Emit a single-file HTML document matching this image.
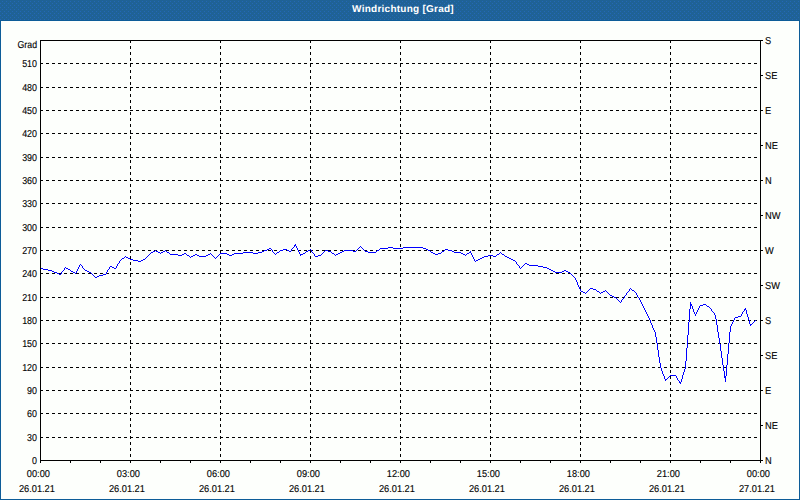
<!DOCTYPE html>
<html><head><meta charset="utf-8"><title>Windrichtung [Grad]</title>
<style>
html,body{margin:0;padding:0;background:#fdfffc;}
body{width:800px;height:500px;overflow:hidden;}
svg{display:block;font-family:"Liberation Sans",sans-serif;font-size:10px;text-rendering:geometricPrecision;}
.t{fill:#000;stroke:#000;stroke-width:0.12px;}
</style></head><body>
<svg width="800" height="500" viewBox="0 0 800 500">
<rect x="0" y="0" width="800" height="500" fill="#0d5c98"/>
<rect x="1" y="21" width="798" height="478" fill="#fdfffc"/>
<defs><pattern id="dz" width="4" height="4" patternUnits="userSpaceOnUse"><rect width="4" height="4" fill="#1f6296"/><rect x="2" y="1" width="1" height="1" fill="#2468b6"/><rect x="0" y="3" width="1" height="1" fill="#2468b6"/></pattern></defs>
<rect x="0" y="0" width="800" height="20" fill="url(#dz)" shape-rendering="crispEdges"/>
<text x="403" y="12" text-anchor="middle" font-weight="bold" fill="#fff" style="font-size:10px;letter-spacing:0.25px">Windrichtung [Grad]</text>
<g shape-rendering="crispEdges" stroke="#000" stroke-width="1" fill="none">
<line x1="40" y1="437.5" x2="760" y2="437.5" stroke-dasharray="3,3"/>
<line x1="40" y1="413.5" x2="760" y2="413.5" stroke-dasharray="3,3"/>
<line x1="40" y1="390.5" x2="760" y2="390.5" stroke-dasharray="3,3"/>
<line x1="40" y1="367.5" x2="760" y2="367.5" stroke-dasharray="3,3"/>
<line x1="40" y1="343.5" x2="760" y2="343.5" stroke-dasharray="3,3"/>
<line x1="40" y1="320.5" x2="760" y2="320.5" stroke-dasharray="3,3"/>
<line x1="40" y1="297.5" x2="760" y2="297.5" stroke-dasharray="3,3"/>
<line x1="40" y1="273.5" x2="760" y2="273.5" stroke-dasharray="3,3"/>
<line x1="40" y1="250.5" x2="760" y2="250.5" stroke-dasharray="3,3"/>
<line x1="40" y1="227.5" x2="760" y2="227.5" stroke-dasharray="3,3"/>
<line x1="40" y1="203.5" x2="760" y2="203.5" stroke-dasharray="3,3"/>
<line x1="40" y1="180.5" x2="760" y2="180.5" stroke-dasharray="3,3"/>
<line x1="40" y1="157.5" x2="760" y2="157.5" stroke-dasharray="3,3"/>
<line x1="40" y1="133.5" x2="760" y2="133.5" stroke-dasharray="3,3"/>
<line x1="40" y1="110.5" x2="760" y2="110.5" stroke-dasharray="3,3"/>
<line x1="40" y1="87.5" x2="760" y2="87.5" stroke-dasharray="3,3"/>
<line x1="40" y1="63.5" x2="760" y2="63.5" stroke-dasharray="3,3"/>
<line x1="130.5" y1="40" x2="130.5" y2="460" stroke-dasharray="3,3"/>
<line x1="220.5" y1="40" x2="220.5" y2="460" stroke-dasharray="3,3"/>
<line x1="310.5" y1="40" x2="310.5" y2="460" stroke-dasharray="3,3"/>
<line x1="400.5" y1="40" x2="400.5" y2="460" stroke-dasharray="3,3"/>
<line x1="490.5" y1="40" x2="490.5" y2="460" stroke-dasharray="3,3"/>
<line x1="580.5" y1="40" x2="580.5" y2="460" stroke-dasharray="3,3"/>
<line x1="670.5" y1="40" x2="670.5" y2="460" stroke-dasharray="3,3"/>
</g>
<g class="t" text-anchor="end">
<text transform="translate(37.00 48.00) scale(0.875 1)">Grad</text>
<text transform="translate(37.00 464.00) scale(0.89 1)">0</text>
<text transform="translate(37.00 441.00) scale(0.89 1)">30</text>
<text transform="translate(37.00 417.00) scale(0.89 1)">60</text>
<text transform="translate(37.00 394.00) scale(0.89 1)">90</text>
<text transform="translate(37.00 371.00) scale(0.89 1)">120</text>
<text transform="translate(37.00 347.00) scale(0.89 1)">150</text>
<text transform="translate(37.00 324.00) scale(0.89 1)">180</text>
<text transform="translate(37.00 301.00) scale(0.89 1)">210</text>
<text transform="translate(37.00 277.00) scale(0.89 1)">240</text>
<text transform="translate(37.00 254.00) scale(0.89 1)">270</text>
<text transform="translate(37.00 231.00) scale(0.89 1)">300</text>
<text transform="translate(37.00 207.00) scale(0.89 1)">330</text>
<text transform="translate(37.00 184.00) scale(0.89 1)">360</text>
<text transform="translate(37.00 161.00) scale(0.89 1)">390</text>
<text transform="translate(37.00 137.00) scale(0.89 1)">420</text>
<text transform="translate(37.00 114.00) scale(0.89 1)">450</text>
<text transform="translate(37.00 91.00) scale(0.89 1)">480</text>
<text transform="translate(37.00 67.00) scale(0.89 1)">510</text>
</g>
<g class="t">
<text transform="translate(765.00 44.00) scale(0.925 1)">S</text>
<text transform="translate(765.00 79.00) scale(0.925 1)">SE</text>
<text transform="translate(765.00 114.00) scale(0.925 1)">E</text>
<text transform="translate(765.00 149.00) scale(0.925 1)">NE</text>
<text transform="translate(765.00 184.00) scale(0.925 1)">N</text>
<text transform="translate(765.00 219.00) scale(0.925 1)">NW</text>
<text transform="translate(765.00 254.00) scale(0.925 1)">W</text>
<text transform="translate(765.00 289.00) scale(0.925 1)">SW</text>
<text transform="translate(765.00 324.00) scale(0.925 1)">S</text>
<text transform="translate(765.00 359.00) scale(0.925 1)">SE</text>
<text transform="translate(765.00 394.00) scale(0.925 1)">E</text>
<text transform="translate(765.00 429.00) scale(0.925 1)">NE</text>
<text transform="translate(765.00 464.00) scale(0.925 1)">N</text>
</g>
<g class="t" text-anchor="middle">
<text transform="translate(38.40 477.00) scale(0.925 1)">00:00</text>
<text transform="translate(36.90 492.00) scale(0.925 1)">26.01.21</text>
<text transform="translate(128.40 477.00) scale(0.925 1)">03:00</text>
<text transform="translate(126.90 492.00) scale(0.925 1)">26.01.21</text>
<text transform="translate(218.40 477.00) scale(0.925 1)">06:00</text>
<text transform="translate(216.90 492.00) scale(0.925 1)">26.01.21</text>
<text transform="translate(308.40 477.00) scale(0.925 1)">09:00</text>
<text transform="translate(306.90 492.00) scale(0.925 1)">26.01.21</text>
<text transform="translate(398.40 477.00) scale(0.925 1)">12:00</text>
<text transform="translate(396.90 492.00) scale(0.925 1)">26.01.21</text>
<text transform="translate(488.40 477.00) scale(0.925 1)">15:00</text>
<text transform="translate(486.90 492.00) scale(0.925 1)">26.01.21</text>
<text transform="translate(578.40 477.00) scale(0.925 1)">18:00</text>
<text transform="translate(576.90 492.00) scale(0.925 1)">26.01.21</text>
<text transform="translate(668.40 477.00) scale(0.925 1)">21:00</text>
<text transform="translate(666.90 492.00) scale(0.925 1)">26.01.21</text>
<text transform="translate(758.40 477.00) scale(0.925 1)">00:00</text>
<text transform="translate(756.90 492.00) scale(0.925 1)">27.01.21</text>
</g>
<path shape-rendering="crispEdges" fill="#0000ff" stroke="none" d="M40 268h1v1h-1zM41 268h1v1h-1zM42 268h1v1h-1zM43 269h1v1h-1zM44 269h1v1h-1zM45 269h1v1h-1zM46 269h1v1h-1zM47 269h1v1h-1zM48 270h1v1h-1zM49 270h1v1h-1zM50 270h1v1h-1zM51 270h1v1h-1zM52 271h1v1h-1zM53 271h1v1h-1zM54 272h1v1h-1zM55 272h1v1h-1zM56 272h1v1h-1zM57 273h1v1h-1zM58 273h1v1h-1zM59 274h1v1h-1zM60 274h1v1h-1zM61 272h1v2h-1zM62 271h1v1h-1zM63 270h1v1h-1zM64 268h1v2h-1zM65 267h1v1h-1zM66 268h1v1h-1zM67 268h1v1h-1zM68 269h1v1h-1zM69 269h1v1h-1zM70 270h1v1h-1zM71 271h1v1h-1zM72 271h1v1h-1zM73 272h1v1h-1zM74 272h1v1h-1zM75 273h1v1h-1zM76 271h1v2h-1zM77 269h1v2h-1zM78 267h1v2h-1zM79 265h1v2h-1zM80 264h1v1h-1zM81 265h1v1h-1zM82 266h1v2h-1zM83 268h1v1h-1zM84 269h1v1h-1zM85 270h1v1h-1zM86 270h1v1h-1zM87 271h1v1h-1zM88 271h1v1h-1zM89 272h1v1h-1zM90 272h1v1h-1zM91 273h1v1h-1zM92 274h1v1h-1zM93 275h1v1h-1zM94 276h1v1h-1zM95 277h1v1h-1zM96 277h1v1h-1zM97 276h1v1h-1zM98 276h1v1h-1zM99 275h1v1h-1zM100 275h1v1h-1zM101 275h1v1h-1zM102 275h1v1h-1zM103 274h1v1h-1zM104 274h1v1h-1zM105 274h1v1h-1zM106 272h1v2h-1zM107 270h1v2h-1zM108 269h1v1h-1zM109 267h1v2h-1zM110 266h1v1h-1zM111 266h1v1h-1zM112 267h1v1h-1zM113 267h1v1h-1zM114 268h1v1h-1zM115 268h1v1h-1zM116 266h1v2h-1zM117 264h1v2h-1zM118 263h1v1h-1zM119 261h1v2h-1zM120 260h1v1h-1zM121 259h1v1h-1zM122 258h1v1h-1zM123 258h1v1h-1zM124 257h1v1h-1zM125 256h1v1h-1zM126 257h1v1h-1zM127 257h1v1h-1zM128 258h1v1h-1zM129 258h1v1h-1zM130 259h1v1h-1zM131 259h1v1h-1zM132 259h1v1h-1zM133 260h1v1h-1zM134 260h1v1h-1zM135 260h1v1h-1zM136 260h1v1h-1zM137 260h1v1h-1zM138 261h1v1h-1zM139 261h1v1h-1zM140 261h1v1h-1zM141 260h1v1h-1zM142 260h1v1h-1zM143 259h1v1h-1zM144 259h1v1h-1zM145 258h1v1h-1zM146 257h1v1h-1zM147 256h1v1h-1zM148 255h1v1h-1zM149 254h1v1h-1zM150 253h1v1h-1zM151 252h1v1h-1zM152 252h1v1h-1zM153 251h1v1h-1zM154 251h1v1h-1zM155 250h1v1h-1zM156 251h1v1h-1zM157 251h1v1h-1zM158 252h1v1h-1zM159 252h1v1h-1zM160 253h1v1h-1zM161 252h1v1h-1zM162 252h1v1h-1zM163 251h1v1h-1zM164 251h1v1h-1zM165 250h1v1h-1zM166 251h1v1h-1zM167 252h1v1h-1zM168 252h1v1h-1zM169 253h1v1h-1zM170 254h1v1h-1zM171 254h1v1h-1zM172 254h1v1h-1zM173 254h1v1h-1zM174 254h1v1h-1zM175 254h1v1h-1zM176 254h1v1h-1zM177 254h1v1h-1zM178 255h1v1h-1zM179 255h1v1h-1zM180 255h1v1h-1zM181 255h1v1h-1zM182 254h1v1h-1zM183 254h1v1h-1zM184 253h1v1h-1zM185 253h1v1h-1zM186 254h1v1h-1zM187 255h1v1h-1zM188 255h1v1h-1zM189 256h1v1h-1zM190 257h1v1h-1zM191 256h1v1h-1zM192 256h1v1h-1zM193 255h1v1h-1zM194 255h1v1h-1zM195 254h1v1h-1zM196 254h1v1h-1zM197 255h1v1h-1zM198 255h1v1h-1zM199 256h1v1h-1zM200 256h1v1h-1zM201 256h1v1h-1zM202 256h1v1h-1zM203 256h1v1h-1zM204 256h1v1h-1zM205 256h1v1h-1zM206 255h1v1h-1zM207 255h1v1h-1zM208 254h1v1h-1zM209 254h1v1h-1zM210 253h1v1h-1zM211 254h1v1h-1zM212 255h1v1h-1zM213 256h1v1h-1zM214 257h1v1h-1zM215 258h1v1h-1zM216 257h1v1h-1zM217 256h1v1h-1zM218 255h1v1h-1zM219 254h1v1h-1zM220 253h1v1h-1zM221 253h1v1h-1zM222 253h1v1h-1zM223 253h1v1h-1zM224 253h1v1h-1zM225 253h1v1h-1zM226 253h1v1h-1zM227 254h1v1h-1zM228 254h1v1h-1zM229 255h1v1h-1zM230 255h1v1h-1zM231 255h1v1h-1zM232 254h1v1h-1zM233 254h1v1h-1zM234 253h1v1h-1zM235 253h1v1h-1zM236 253h1v1h-1zM237 253h1v1h-1zM238 253h1v1h-1zM239 253h1v1h-1zM240 253h1v1h-1zM241 253h1v1h-1zM242 253h1v1h-1zM243 252h1v1h-1zM244 252h1v1h-1zM245 252h1v1h-1zM246 252h1v1h-1zM247 252h1v1h-1zM248 252h1v1h-1zM249 252h1v1h-1zM250 252h1v1h-1zM251 252h1v1h-1zM252 252h1v1h-1zM253 253h1v1h-1zM254 253h1v1h-1zM255 253h1v1h-1zM256 253h1v1h-1zM257 253h1v1h-1zM258 252h1v1h-1zM259 252h1v1h-1zM260 252h1v1h-1zM261 252h1v1h-1zM262 251h1v1h-1zM263 251h1v1h-1zM264 250h1v1h-1zM265 250h1v1h-1zM266 250h1v1h-1zM267 249h1v1h-1zM268 249h1v1h-1zM269 248h1v1h-1zM270 248h1v1h-1zM271 249h1v1h-1zM272 250h1v2h-1zM273 252h1v1h-1zM274 253h1v1h-1zM275 254h1v1h-1zM276 253h1v1h-1zM277 252h1v1h-1zM278 252h1v1h-1zM279 251h1v1h-1zM280 250h1v1h-1zM281 250h1v1h-1zM282 250h1v1h-1zM283 249h1v1h-1zM284 249h1v1h-1zM285 249h1v1h-1zM286 249h1v1h-1zM287 250h1v1h-1zM288 250h1v1h-1zM289 251h1v1h-1zM290 251h1v1h-1zM291 249h1v2h-1zM292 248h1v1h-1zM293 247h1v1h-1zM294 245h1v2h-1zM295 244h1v2h-1zM296 246h1v2h-1zM297 248h1v2h-1zM298 250h1v2h-1zM299 252h1v2h-1zM300 254h1v2h-1zM301 254h1v1h-1zM302 254h1v1h-1zM303 253h1v1h-1zM304 253h1v1h-1zM305 252h1v1h-1zM306 251h1v1h-1zM307 251h1v1h-1zM308 250h1v1h-1zM309 250h1v1h-1zM310 249h1v1h-1zM311 250h1v2h-1zM312 252h1v1h-1zM313 253h1v1h-1zM314 254h1v2h-1zM315 256h1v1h-1zM316 256h1v1h-1zM317 256h1v1h-1zM318 255h1v1h-1zM319 255h1v1h-1zM320 255h1v1h-1zM321 254h1v1h-1zM322 253h1v1h-1zM323 252h1v1h-1zM324 251h1v1h-1zM325 250h1v1h-1zM326 250h1v1h-1zM327 250h1v1h-1zM328 251h1v1h-1zM329 251h1v1h-1zM330 251h1v1h-1zM331 252h1v1h-1zM332 253h1v1h-1zM333 253h1v1h-1zM334 254h1v1h-1zM335 255h1v1h-1zM336 254h1v1h-1zM337 254h1v1h-1zM338 253h1v1h-1zM339 253h1v1h-1zM340 252h1v1h-1zM341 252h1v1h-1zM342 251h1v1h-1zM343 251h1v1h-1zM344 250h1v1h-1zM345 250h1v1h-1zM346 250h1v1h-1zM347 250h1v1h-1zM348 250h1v1h-1zM349 250h1v1h-1zM350 250h1v1h-1zM351 250h1v1h-1zM352 250h1v1h-1zM353 251h1v1h-1zM354 251h1v1h-1zM355 251h1v1h-1zM356 250h1v1h-1zM357 249h1v1h-1zM358 248h1v1h-1zM359 247h1v1h-1zM360 246h1v1h-1zM361 247h1v1h-1zM362 248h1v1h-1zM363 249h1v1h-1zM364 250h1v1h-1zM365 251h1v1h-1zM366 251h1v1h-1zM367 251h1v1h-1zM368 252h1v1h-1zM369 252h1v1h-1zM370 252h1v1h-1zM371 252h1v1h-1zM372 252h1v1h-1zM373 252h1v1h-1zM374 252h1v1h-1zM375 252h1v1h-1zM376 251h1v1h-1zM377 250h1v1h-1zM378 250h1v1h-1zM379 249h1v1h-1zM380 248h1v1h-1zM381 248h1v1h-1zM382 248h1v1h-1zM383 248h1v1h-1zM384 248h1v1h-1zM385 248h1v1h-1zM386 248h1v1h-1zM387 248h1v1h-1zM388 247h1v1h-1zM389 247h1v1h-1zM390 247h1v1h-1zM391 247h1v1h-1zM392 247h1v1h-1zM393 248h1v1h-1zM394 248h1v1h-1zM395 248h1v1h-1zM396 248h1v1h-1zM397 248h1v1h-1zM398 248h1v1h-1zM399 248h1v1h-1zM400 248h1v1h-1zM401 248h1v1h-1zM402 248h1v1h-1zM403 247h1v1h-1zM404 247h1v1h-1zM405 247h1v1h-1zM406 247h1v1h-1zM407 247h1v1h-1zM408 247h1v1h-1zM409 247h1v1h-1zM410 247h1v1h-1zM411 247h1v1h-1zM412 247h1v1h-1zM413 247h1v1h-1zM414 247h1v1h-1zM415 247h1v1h-1zM416 247h1v1h-1zM417 247h1v1h-1zM418 247h1v1h-1zM419 247h1v1h-1zM420 247h1v1h-1zM421 247h1v1h-1zM422 247h1v1h-1zM423 248h1v1h-1zM424 248h1v1h-1zM425 248h1v1h-1zM426 249h1v1h-1zM427 249h1v1h-1zM428 250h1v1h-1zM429 250h1v1h-1zM430 251h1v1h-1zM431 252h1v1h-1zM432 252h1v1h-1zM433 253h1v1h-1zM434 253h1v1h-1zM435 254h1v1h-1zM436 254h1v1h-1zM437 254h1v1h-1zM438 253h1v1h-1zM439 253h1v1h-1zM440 253h1v1h-1zM441 252h1v1h-1zM442 251h1v1h-1zM443 251h1v1h-1zM444 250h1v1h-1zM445 249h1v1h-1zM446 249h1v1h-1zM447 249h1v1h-1zM448 250h1v1h-1zM449 250h1v1h-1zM450 250h1v1h-1zM451 250h1v1h-1zM452 251h1v1h-1zM453 251h1v1h-1zM454 252h1v1h-1zM455 252h1v1h-1zM456 252h1v1h-1zM457 252h1v1h-1zM458 252h1v1h-1zM459 252h1v1h-1zM460 252h1v1h-1zM461 253h1v1h-1zM462 253h1v1h-1zM463 254h1v1h-1zM464 254h1v1h-1zM465 255h1v1h-1zM466 254h1v1h-1zM467 253h1v1h-1zM468 253h1v1h-1zM469 252h1v1h-1zM470 251h1v2h-1zM471 253h1v2h-1zM472 255h1v2h-1zM473 257h1v2h-1zM474 259h1v2h-1zM475 261h1v1h-1zM476 260h1v1h-1zM477 260h1v1h-1zM478 259h1v1h-1zM479 259h1v1h-1zM480 258h1v1h-1zM481 258h1v1h-1zM482 257h1v1h-1zM483 257h1v1h-1zM484 256h1v1h-1zM485 256h1v1h-1zM486 256h1v1h-1zM487 256h1v1h-1zM488 255h1v1h-1zM489 255h1v1h-1zM490 255h1v1h-1zM491 255h1v1h-1zM492 255h1v1h-1zM493 256h1v1h-1zM494 256h1v1h-1zM495 256h1v1h-1zM496 255h1v1h-1zM497 254h1v1h-1zM498 254h1v1h-1zM499 253h1v1h-1zM500 252h1v1h-1zM501 253h1v1h-1zM502 254h1v1h-1zM503 254h1v1h-1zM504 255h1v1h-1zM505 256h1v1h-1zM506 256h1v1h-1zM507 257h1v1h-1zM508 257h1v1h-1zM509 258h1v1h-1zM510 258h1v1h-1zM511 259h1v1h-1zM512 259h1v1h-1zM513 260h1v1h-1zM514 260h1v1h-1zM515 261h1v1h-1zM516 262h1v2h-1zM517 264h1v1h-1zM518 265h1v1h-1zM519 266h1v2h-1zM520 268h1v1h-1zM521 267h1v1h-1zM522 266h1v1h-1zM523 265h1v1h-1zM524 264h1v1h-1zM525 263h1v1h-1zM526 263h1v1h-1zM527 264h1v1h-1zM528 264h1v1h-1zM529 265h1v1h-1zM530 265h1v1h-1zM531 265h1v1h-1zM532 265h1v1h-1zM533 265h1v1h-1zM534 265h1v1h-1zM535 265h1v1h-1zM536 265h1v1h-1zM537 265h1v1h-1zM538 266h1v1h-1zM539 266h1v1h-1zM540 266h1v1h-1zM541 266h1v1h-1zM542 266h1v1h-1zM543 267h1v1h-1zM544 267h1v1h-1zM545 267h1v1h-1zM546 267h1v1h-1zM547 268h1v1h-1zM548 268h1v1h-1zM549 269h1v1h-1zM550 269h1v1h-1zM551 270h1v1h-1zM552 270h1v1h-1zM553 271h1v1h-1zM554 271h1v1h-1zM555 272h1v1h-1zM556 272h1v1h-1zM557 272h1v1h-1zM558 272h1v1h-1zM559 272h1v1h-1zM560 272h1v1h-1zM561 272h1v1h-1zM562 271h1v1h-1zM563 271h1v1h-1zM564 270h1v1h-1zM565 270h1v1h-1zM566 271h1v1h-1zM567 271h1v1h-1zM568 272h1v1h-1zM569 272h1v1h-1zM570 273h1v1h-1zM571 274h1v1h-1zM572 275h1v1h-1zM573 276h1v1h-1zM574 277h1v1h-1zM575 278h1v2h-1zM576 280h1v2h-1zM577 282h1v3h-1zM578 285h1v2h-1zM579 287h1v2h-1zM580 289h1v2h-1zM581 291h1v1h-1zM582 291h1v1h-1zM583 292h1v1h-1zM584 292h1v1h-1zM585 293h1v1h-1zM586 292h1v1h-1zM587 291h1v1h-1zM588 290h1v1h-1zM589 289h1v1h-1zM590 288h1v1h-1zM591 288h1v1h-1zM592 288h1v1h-1zM593 289h1v1h-1zM594 289h1v1h-1zM595 289h1v1h-1zM596 290h1v1h-1zM597 291h1v1h-1zM598 291h1v1h-1zM599 292h1v1h-1zM600 293h1v1h-1zM601 292h1v1h-1zM602 292h1v1h-1zM603 291h1v1h-1zM604 291h1v1h-1zM605 290h1v1h-1zM606 291h1v1h-1zM607 292h1v1h-1zM608 293h1v1h-1zM609 294h1v1h-1zM610 295h1v1h-1zM611 295h1v1h-1zM612 296h1v1h-1zM613 296h1v1h-1zM614 297h1v1h-1zM615 297h1v1h-1zM616 298h1v1h-1zM617 299h1v1h-1zM618 300h1v1h-1zM619 301h1v1h-1zM620 302h1v1h-1zM621 300h1v2h-1zM622 299h1v1h-1zM623 298h1v1h-1zM624 296h1v2h-1zM625 295h1v1h-1zM626 293h1v2h-1zM627 292h1v1h-1zM628 291h1v1h-1zM629 289h1v2h-1zM630 288h1v1h-1zM631 289h1v1h-1zM632 290h1v1h-1zM633 290h1v1h-1zM634 291h1v1h-1zM635 292h1v1h-1zM636 293h1v2h-1zM637 295h1v2h-1zM638 297h1v1h-1zM639 298h1v2h-1zM640 300h1v2h-1zM641 302h1v2h-1zM642 304h1v2h-1zM643 306h1v2h-1zM644 308h1v2h-1zM645 310h1v2h-1zM646 312h1v2h-1zM647 314h1v2h-1zM648 316h1v2h-1zM649 318h1v2h-1zM650 320h1v3h-1zM651 323h1v2h-1zM652 325h1v3h-1zM653 328h1v2h-1zM654 330h1v2h-1zM655 332h1v5h-1zM656 337h1v6h-1zM657 343h1v7h-1zM658 350h1v7h-1zM659 357h1v6h-1zM660 363h1v5h-1zM661 368h1v3h-1zM662 371h1v3h-1zM663 374h1v2h-1zM664 376h1v3h-1zM665 379h1v2h-1zM666 379h1v1h-1zM667 378h1v1h-1zM668 377h1v1h-1zM669 376h1v1h-1zM670 375h1v1h-1zM671 375h1v1h-1zM672 375h1v1h-1zM673 375h1v1h-1zM674 375h1v1h-1zM675 375h1v1h-1zM676 376h1v2h-1zM677 378h1v2h-1zM678 380h1v1h-1zM679 381h1v2h-1zM680 382h1v2h-1zM681 379h1v3h-1zM682 375h1v4h-1zM683 372h1v3h-1zM684 369h1v3h-1zM685 361h1v8h-1zM686 348h1v13h-1zM687 335h1v13h-1zM688 322h1v13h-1zM689 309h1v13h-1zM690 302h1v7h-1zM691 304h1v2h-1zM692 306h1v3h-1zM693 309h1v3h-1zM694 312h1v2h-1zM695 314h1v2h-1zM696 312h1v2h-1zM697 310h1v2h-1zM698 308h1v2h-1zM699 306h1v2h-1zM700 305h1v1h-1zM701 305h1v1h-1zM702 305h1v1h-1zM703 304h1v1h-1zM704 304h1v1h-1zM705 304h1v1h-1zM706 305h1v1h-1zM707 306h1v1h-1zM708 306h1v1h-1zM709 307h1v1h-1zM710 308h1v1h-1zM711 309h1v2h-1zM712 311h1v1h-1zM713 312h1v1h-1zM714 313h1v2h-1zM715 315h1v4h-1zM716 319h1v6h-1zM717 325h1v7h-1zM718 332h1v6h-1zM719 338h1v6h-1zM720 344h1v7h-1zM721 351h1v7h-1zM722 358h1v7h-1zM723 365h1v6h-1zM724 371h1v7h-1zM725 376h1v6h-1zM726 365h1v11h-1zM727 354h1v11h-1zM728 343h1v11h-1zM729 332h1v11h-1zM730 326h1v6h-1zM731 324h1v2h-1zM732 322h1v2h-1zM733 320h1v2h-1zM734 318h1v2h-1zM735 317h1v1h-1zM736 317h1v1h-1zM737 317h1v1h-1zM738 316h1v1h-1zM739 316h1v1h-1zM740 316h1v1h-1zM741 314h1v2h-1zM742 312h1v2h-1zM743 311h1v1h-1zM744 309h1v2h-1zM745 308h1v2h-1zM746 310h1v4h-1zM747 314h1v3h-1zM748 317h1v3h-1zM749 320h1v4h-1zM750 324h1v2h-1zM751 324h1v1h-1zM752 323h1v1h-1zM753 322h1v1h-1zM754 321h1v1h-1zM755 320h1v1h-1z"/>
<g shape-rendering="crispEdges" stroke="#000" stroke-width="1" fill="none">
<rect x="40.5" y="40.5" width="720" height="420"/>
<line x1="40.5" y1="461" x2="40.5" y2="463"/>
<line x1="70.5" y1="461" x2="70.5" y2="463"/>
<line x1="100.5" y1="461" x2="100.5" y2="463"/>
<line x1="130.5" y1="461" x2="130.5" y2="463"/>
<line x1="160.5" y1="461" x2="160.5" y2="463"/>
<line x1="190.5" y1="461" x2="190.5" y2="463"/>
<line x1="220.5" y1="461" x2="220.5" y2="463"/>
<line x1="250.5" y1="461" x2="250.5" y2="463"/>
<line x1="280.5" y1="461" x2="280.5" y2="463"/>
<line x1="310.5" y1="461" x2="310.5" y2="463"/>
<line x1="340.5" y1="461" x2="340.5" y2="463"/>
<line x1="370.5" y1="461" x2="370.5" y2="463"/>
<line x1="400.5" y1="461" x2="400.5" y2="463"/>
<line x1="430.5" y1="461" x2="430.5" y2="463"/>
<line x1="460.5" y1="461" x2="460.5" y2="463"/>
<line x1="490.5" y1="461" x2="490.5" y2="463"/>
<line x1="520.5" y1="461" x2="520.5" y2="463"/>
<line x1="550.5" y1="461" x2="550.5" y2="463"/>
<line x1="580.5" y1="461" x2="580.5" y2="463"/>
<line x1="610.5" y1="461" x2="610.5" y2="463"/>
<line x1="640.5" y1="461" x2="640.5" y2="463"/>
<line x1="670.5" y1="461" x2="670.5" y2="463"/>
<line x1="700.5" y1="461" x2="700.5" y2="463"/>
<line x1="730.5" y1="461" x2="730.5" y2="463"/>
<line x1="760.5" y1="461" x2="760.5" y2="463"/>
<line x1="761" y1="40.5" x2="763" y2="40.5"/>
<line x1="761" y1="75.5" x2="763" y2="75.5"/>
<line x1="761" y1="110.5" x2="763" y2="110.5"/>
<line x1="761" y1="145.5" x2="763" y2="145.5"/>
<line x1="761" y1="180.5" x2="763" y2="180.5"/>
<line x1="761" y1="215.5" x2="763" y2="215.5"/>
<line x1="761" y1="250.5" x2="763" y2="250.5"/>
<line x1="761" y1="285.5" x2="763" y2="285.5"/>
<line x1="761" y1="320.5" x2="763" y2="320.5"/>
<line x1="761" y1="355.5" x2="763" y2="355.5"/>
<line x1="761" y1="390.5" x2="763" y2="390.5"/>
<line x1="761" y1="425.5" x2="763" y2="425.5"/>
<line x1="761" y1="460.5" x2="763" y2="460.5"/>
</g>
</svg></body></html>
